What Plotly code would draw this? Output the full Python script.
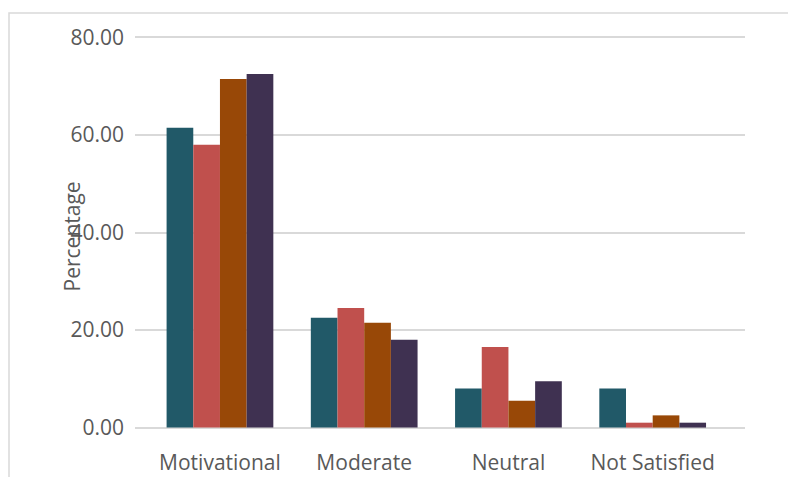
import plotly.graph_objects as go

categories = ["Motivational", "Moderate", "Neutral", "Not Satisfied"]
series_names = ["Series 1", "Series 2", "Series 3", "Series 4"]
s1 = [61.5, 22.5, 8.0, 8.0]
s2 = [58.0, 24.5, 16.5, 1.0]
s3 = [71.5, 21.5, 5.5, 2.5]
s4 = [72.5, 18.0, 9.5, 1.0]
y_ticks = [0, 20, 40, 60, 80]
y_tick_labels = ["0.00", "20.00", "40.00", "60.00", "80.00"]
colors = ["#215968", "#C0504D", "#984807", "#3F3151"]

W, H = 788, 477
ml, mr, mt, mb = 135, 43, 35, 47
pw, ph = W - ml - mr, H - mt - mb
FONT = "Open Sans, Liberation Sans, sans-serif"
FS = 21

fig = go.Figure()
for name, vals, c in zip(series_names, [s1, s2, s3, s4], colors):
    fig.add_trace(go.Bar(x=categories, y=vals, name=name, marker_color=c,
                         marker_line_width=0))

def px_x(p):
    return (p - ml) / pw

def px_y(p):
    return (H - mb - p) / ph

fig.add_shape(type="rect", xref="paper", yref="paper",
              x0=px_x(9), x1=px_x(820), y0=px_y(520), y1=px_y(13),
              line=dict(color="#D9D9D9", width=1.5), fillcolor="rgba(0,0,0,0)",
              layer="below")

fig.add_annotation(text="Percentage", xref="paper", yref="paper",
                   x=px_x(72), y=0.49, textangle=-90, showarrow=False,
                   font=dict(family=FONT, size=FS, color="#595959"),
                   xanchor="center", yanchor="middle")

fig.update_layout(
    width=W, height=H,
    margin=dict(l=ml, r=mr, t=mt, b=mb, autoexpand=False),
    paper_bgcolor="white", plot_bgcolor="white",
    barmode="group", bargap=0.26, bargroupgap=0.0,
    showlegend=False,
    font=dict(family=FONT, size=FS, color="#595959"),
    xaxis=dict(type="category", range=[-0.589, 3.64], showgrid=False, zeroline=False,
               showline=False, ticks="", ticklabelstandoff=18, automargin=False,
               tickfont=dict(family=FONT, size=FS, color="#595959")),
    yaxis=dict(range=[-0.5, 80.5], tickvals=y_ticks, ticktext=y_tick_labels,
               showgrid=True, gridcolor="#D9D9D9", gridwidth=1.5, automargin=False,
               zeroline=False, showline=False, ticks="", ticklabelstandoff=10,
               tickfont=dict(family=FONT, size=FS, color="#595959")),
)

fig.write_html("out.html")
